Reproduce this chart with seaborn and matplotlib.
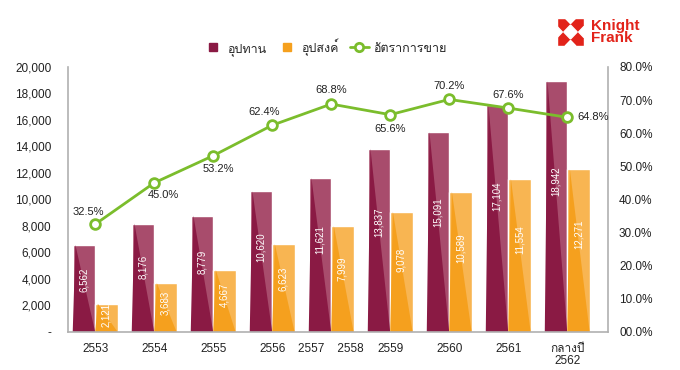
import matplotlib
matplotlib.use("Agg")
import matplotlib.pyplot as plt
from matplotlib import font_manager
from matplotlib.ft2font import FT2Font
from matplotlib.patches import Polygon, Rectangle
from matplotlib.lines import Line2D
import numpy as np
import pandas as pd
import seaborn as sns

# ---------------- data ----------------
years = ["2553", "2554", "2555", "2556", "2557    2558", "2559", "2560", "2561", "กลางปี\n2562"]
supply = [6562, 8176, 8779, 10620, 11621, 13837, 15091, 17104, 18942]   # อุปทาน
demand = [2121, 3683, 4667, 6623, 7999, 9078, 10589, 11554, 12271]      # อุปสงค์
sales_rate = [32.5, 45.0, 53.2, 62.4, 68.8, 65.6, 70.2, 67.6, 64.8]     # อัตราการขาย (%)

series_names = ["อุปทาน", "อุปสงค์", "อัตราการขาย"]

# label offsets for the rate line (pixels)
rate_offsets = [(-7, 12), (9, -12), (5, -13), (-8, 13), (0, 14), (0, -14), (0, 13), (0, 13), (10, 0)]

# colours
maroon_light = "#A84C6C"
maroon_dark = "#8A1A44"
orange_light = "#F8B552"
orange_dark = "#F5A01E"
green = "#7BBD2C"
axis_grey = "#B0B0B0"


# find a font that has Thai glyphs
def find_thai_font():
    for f in font_manager.fontManager.ttflist:
        try:
            if 0x0E2D in FT2Font(f.fname).get_charmap():
                return f.name
        except Exception:
            pass
    return None


sns.set_style("white")
thai = find_thai_font()
fams = ["Liberation Sans"]
if thai:
    fams.append(thai)
fams.append("DejaVu Sans")
plt.rcParams["font.family"] = fams

df = pd.DataFrame({
    "year": years * 2,
    "value": supply + demand,
    "series": [series_names[0]] * len(years) + [series_names[1]] * len(years),
})

fig = plt.figure(figsize=(6.8, 3.7), dpi=100)
ax = fig.add_axes([0.1, 0.103, 0.794, 0.716])

sns.barplot(
    data=df, x="year", y="value", hue="series",
    palette=[maroon_light, orange_light], width=0.76, gap=0,
    saturation=1, legend=False, ax=ax,
)

# darker lower-left triangle on each bar
for p in list(ax.patches):
    x, w, h = p.get_x(), p.get_width(), p.get_height()
    dark = maroon_dark if p.get_facecolor()[:3] == matplotlib.colors.to_rgb(maroon_light) else orange_dark
    ax.add_patch(Polygon([(x, 0), (x + w, 0), (x + 0.12 * w, h)], closed=True,
                         facecolor=dark, edgecolor="none", zorder=p.get_zorder()))
    ax.text(x + w / 2, h * 0.6, f"{int(round(h)):,}", rotation=90, color="white",
            ha="center", va="center", fontsize=7, zorder=5)

ax.set_ylim(0, 20000)
ax.set_xlim(-0.46, len(years) - 1 + 0.69)
ax.set_yticks(range(0, 20001, 2000))
ax.set_yticklabels(["-"] + [f"{v:,}" for v in range(2000, 20001, 2000)])
ax.set_xlabel("")
ax.set_ylabel("")
ax.tick_params(axis="both", length=0, labelsize=8.5, colors="#222222")
ax.tick_params(axis="x", pad=8)
ax.tick_params(axis="y", pad=12)
for lbl in ax.get_xticklabels():
    lbl.set_linespacing(0.95)
for s in ["top", "right"]:
    ax.spines[s].set_visible(False)
for s in ["left", "bottom"]:
    ax.spines[s].set_color(axis_grey)
    ax.spines[s].set_linewidth(1.2)

# sales rate line on right axis
ax2 = ax.twinx()
xpos = np.arange(len(years))
sns.lineplot(x=xpos, y=np.array(sales_rate) / 100, color=green, linewidth=2,
             marker="o", markersize=7, markerfacecolor="white",
             markeredgecolor=green, markeredgewidth=2, ax=ax2, zorder=6)
ax2.set_ylim(0, 0.8)
ax2.set_yticks(np.arange(0, 0.81, 0.1))
ax2.set_yticklabels([f"{v * 100:04.1f}%" for v in np.arange(0, 0.81, 0.1)])
ax2.tick_params(axis="y", length=0, labelsize=8.5, colors="#222222", pad=8)
for s in ["top", "left", "bottom"]:
    ax2.spines[s].set_visible(False)
ax2.spines["right"].set_color(axis_grey)
ax2.spines["right"].set_linewidth(1.2)

for i, r in enumerate(sales_rate):
    dx, dy = rate_offsets[i]
    ax2.annotate(f"{r:.1f}%", (xpos[i], r / 100), xytext=(dx, dy),
                 textcoords="offset pixels", fontsize=8, color="#222222",
                 ha="left" if i == len(years) - 1 else "center", va="center")

# legend
handles = [
    Line2D([], [], marker="s", linestyle="none", markersize=6,
           markerfacecolor=maroon_dark, markeredgecolor=maroon_dark),
    Line2D([], [], marker="s", linestyle="none", markersize=6,
           markerfacecolor=orange_dark, markeredgecolor=orange_dark),
    Line2D([], [], color=green, linewidth=2, marker="o", markersize=6,
           markerfacecolor="white", markeredgecolor=green, markeredgewidth=2),
]
fig.legend(handles, series_names, loc="center", bbox_to_anchor=(0.478, 0.873),
           ncol=3, frameon=False, fontsize=9, handlelength=1.5,
           columnspacing=0.9, handletextpad=0.4)

# Knight Frank logo
logo = fig.add_axes([557 / 680, 1 - 46 / 370, 27 / 680, 28 / 370])
logo.set_xlim(0, 1)
logo.set_ylim(0, 1)
logo.axis("off")
logo.add_patch(Rectangle((0, 0), 1, 1, facecolor="#E2231A"))
logo.add_patch(Polygon([(0.5, 0.25), (0.75, 0.5), (0.5, 0.75), (0.25, 0.5)], facecolor="white"))
for tri in [[(0.3, 1), (0.7, 1), (0.5, 0.8)], [(0.3, 0), (0.7, 0), (0.5, 0.2)],
            [(0, 0.3), (0, 0.7), (0.2, 0.5)], [(1, 0.3), (1, 0.7), (0.8, 0.5)]]:
    logo.add_patch(Polygon(tri, facecolor="white"))
fig.text(591 / 680, 1 - 32 / 370, "Knight\nFrank", color="#E2231A", fontsize=11,
         fontweight="bold", ha="left", va="center", linespacing=0.9)

plt.savefig("out.png", dpi=100)
